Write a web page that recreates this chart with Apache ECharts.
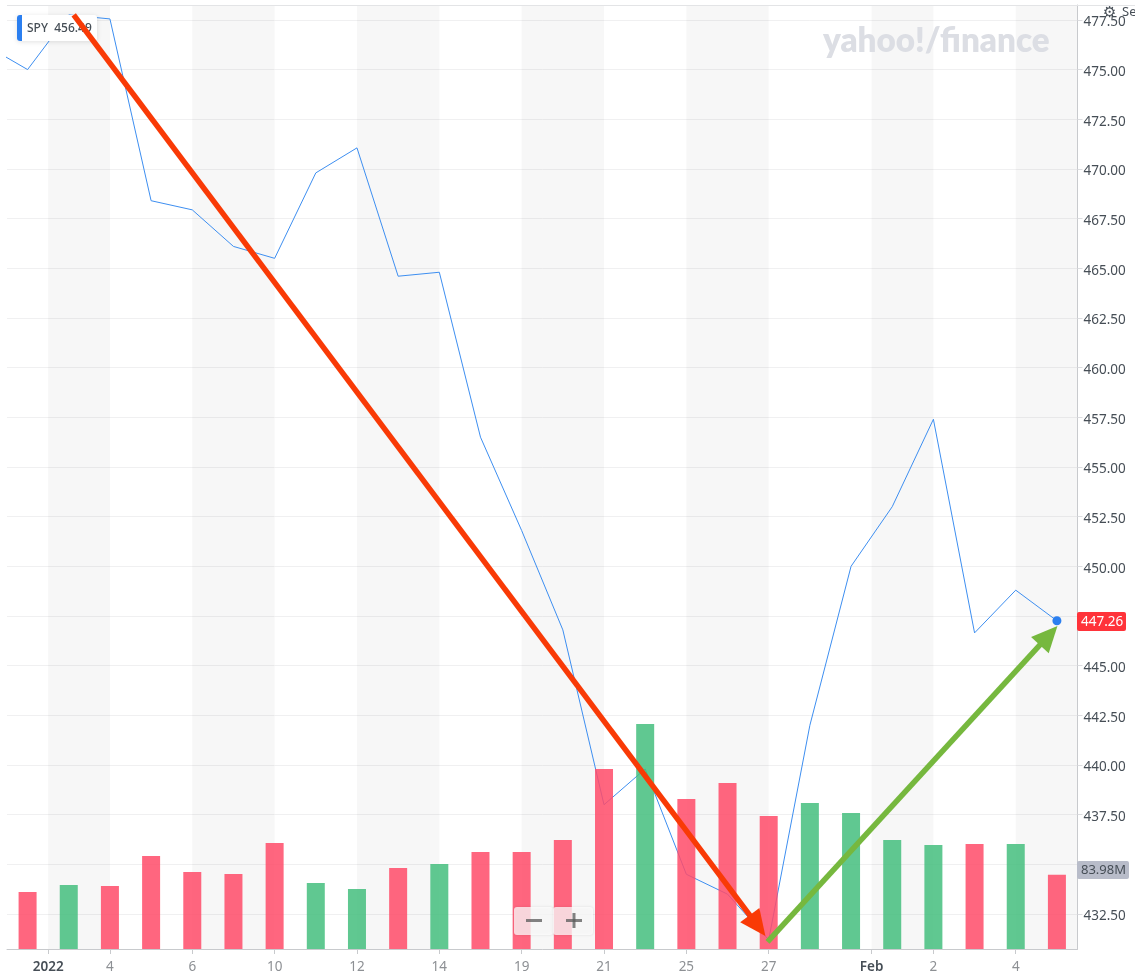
<!DOCTYPE html>
<html lang="en">
<head>
  <meta charset="UTF-8">
  <title>SPY</title>
  <script src="https://cdn.jsdelivr.net/npm/echarts@6/dist/echarts.min.js"></script>
  <style>
    html, body { margin: 0; background: #fff; }
    #chart { width: 1135px; height: 979px; }
  </style>
</head>
<body>
  <div id="chart"></div>
  <script>
    // day index 0 = Dec 31, then one slot per trading day up to Feb 7
    const dayIndex = [0, 1, 2, 3, 4, 5, 6, 7, 8, 9, 10, 11, 12, 13, 14, 15, 16, 17, 18, 19, 20, 21, 22, 23, 24, 25];
    const closes = [475.0, 477.75, 477.55, 468.4, 467.94, 466.1, 465.5, 469.8, 471.06, 464.6, 464.8, 456.5, 451.8,
      446.8, 438.0, 439.8, 434.5, 433.5, 431.2, 442.0, 450.0, 453.0, 457.4, 446.65, 448.8, 447.26];
    // the close before the first slot, the line comes in from off the left edge
    const priorClose = 476.2;
    const volumes = [64.4, 72.3, 71.2, 105, 87, 84.8, 119.8, 74.6, 67.8, 91.5, 96, 109.6, 109.6, 123.2, 203.4, 254.3,
      169.5, 187.6, 150.3, 165, 153.7, 123.2, 117.5, 118.7, 118.7, 83.98];
    const volumeUp = [0, 1, 0, 0, 0, 0, 0, 1, 1, 0, 1, 0, 0, 0, 0, 1, 0, 0, 0, 1, 1, 1, 1, 0, 1, 0];

    const priceTicks = [432.5, 435, 437.5, 440, 442.5, 445, 447.5, 450, 452.5, 455, 457.5, 460, 462.5, 465, 467.5,
      470, 472.5, 475, 477.5];
    // 447.50 sits behind the last price flag
    const priceLabelTicks = priceTicks.filter(v => v !== 447.5);
    const dateTickPositions = [0.5, 2, 4, 6, 8, 10, 12, 14, 16, 18, 20.5, 22, 24];
    const dateTickLabels = ['2022', '4', '6', '10', '12', '14', '19', '21', '25', '27', 'Feb', '2', '4'];
    const strongDateLabels = ['2022', 'Feb'];

    const bandStarts = [0.5, 4, 8, 12, 16, 20.5, 24];
    const bandEnds = [2, 6, 10, 14, 18, 22, 25.5];

    const downArrow = [[1.12, 477.75], [17.73, 431.92]];
    const upArrow = [[17.97, 431.1], [24.8, 446.52]];

    const symbolName = 'SPY';
    const hoverPrice = '456.49';
    const lastPrice = '447.26';
    const lastVolume = '83.98M';
    const watermark = 'yahoo!/finance';

    const chart = echarts.init(document.getElementById('chart'));
    const labelFont = '"Noto Sans", sans-serif';

    const linePoints = [[-1, priorClose]].concat(dayIndex.map((d, i) => [d, closes[i]]));
    const lastPoint = linePoints.length - 1;

    const arrow = (points, color) => ({
      type: 'line',
      data: [],
      z: 6,
      silent: true,
      markLine: {
        silent: true,
        symbol: ['none', 'triangle'],
        symbolSize: [24, 26],
        label: { show: false },
        lineStyle: { color: color, width: 5.5, type: 'solid', opacity: 1 },
        emphasis: { disabled: true },
        z: 6,
        data: [[{ coord: points[0] }, { coord: points[1] }]]
      }
    });

    const option = {
      backgroundColor: '#ffffff',
      animation: false,
      grid: { left: 7, right: 57.5, top: 5, bottom: 30 },
      xAxis: {
        type: 'value',
        min: -0.5,
        max: 25.5,
        axisLine: { onZero: false, lineStyle: { color: '#c8cacd' } },
        splitLine: { show: false },
        axisTick: { length: 5, customValues: dateTickPositions, lineStyle: { color: '#c8cacd' } },
        axisLabel: {
          customValues: dateTickPositions,
          margin: 11,
          showMinLabel: true,
          showMaxLabel: true,
          formatter: value => {
            const label = dateTickLabels[dateTickPositions.indexOf(value)];
            return strongDateLabels.includes(label) ? `{strong|${label}}` : label;
          },
          color: '#8d9094',
          fontFamily: labelFont,
          fontSize: 13.5,
          rich: {
            strong: { color: '#464e56', fontFamily: labelFont, fontSize: 13.5, fontWeight: 600 }
          }
        }
      },
      yAxis: [
        {
          type: 'value',
          position: 'right',
          min: 430.74,
          max: 478.25,
          axisLine: { show: true, onZero: false, lineStyle: { color: '#c8cacd' } },
          axisTick: { show: true, length: 5, customValues: priceTicks, lineStyle: { color: '#dcdde0' } },
          splitLine: { show: true, customValues: priceTicks, lineStyle: { color: '#f0f0f1' } },
          axisLabel: {
            customValues: priceLabelTicks,
            margin: 6,
            // sits the digits level with the gridline
            verticalAlign: 'top',
            lineHeight: 5,
            formatter: value => value.toFixed(2),
            color: '#464e56',
            fontFamily: labelFont,
            fontSize: 13.5
          }
        },
        {
          // volume keeps its own hidden scale
          type: 'value',
          min: 0,
          max: 1067,
          show: false,
          splitLine: { show: false }
        }
      ],
      series: [
        {
          type: 'line',
          data: [],
          z: 0,
          silent: true,
          markArea: {
            silent: true,
            z: 0,
            itemStyle: { color: 'rgba(40,40,60,0.04)' },
            data: bandStarts.map((s, i) => [{ xAxis: s }, { xAxis: bandEnds[i] }])
          }
        },
        {
          name: 'SPY',
          type: 'line',
          data: linePoints.map((p, i) => i === lastPoint
            ? { value: p, symbol: 'circle', symbolSize: 9, itemStyle: { color: '#2b7ff0', borderColor: '#fff', borderWidth: 0 } }
            : { value: p, symbol: 'none' }),
          showSymbol: true,
          showAllSymbol: true,
          clip: true,
          z: 2,
          lineStyle: { color: '#3d8ef0', width: 1 }
        },
        {
          name: 'Volume',
          type: 'bar',
          yAxisIndex: 1,
          barWidth: 18,
          z: 3,
          data: dayIndex.map((d, i) => ({
            value: [d, volumes[i]],
            itemStyle: { color: volumeUp[i] ? 'rgb(68,190,126)' : 'rgb(255,75,105)', opacity: 0.85 }
          }))
        },
        arrow(downArrow, '#f93a06'),
        arrow(upArrow, '#76b83e')
      ],
      graphic: [
        { type: 'line', z: 4, silent: true, shape: { x1: 7, y1: 5.5, x2: 1135, y2: 5.5 }, style: { stroke: '#e3e4e6', lineWidth: 1 } },
        // watermark
        { type: 'text', z: 1, silent: true, style: { x: 823, y: 41, text: watermark, verticalAlign: 'middle', fill: '#dcdee4', font: '800 33.2px Lato, sans-serif' } },
        // symbol badge
        { type: 'rect', z: 4, silent: true, shape: { x: 17, y: 15, width: 80, height: 26, r: 3 }, style: { fill: '#fff', shadowBlur: 5, shadowColor: 'rgba(0,0,0,0.12)', shadowOffsetY: 1 } },
        { type: 'rect', z: 4, silent: true, shape: { x: 17, y: 15, width: 5, height: 26, r: [3, 0, 0, 3] }, style: { fill: '#2b7ff0' } },
        { type: 'text', z: 4, silent: true, style: { x: 27, y: 29, text: symbolName + '  ' + hoverPrice, verticalAlign: 'middle', fill: '#464e56', font: '500 12px "Noto Sans", sans-serif' } },
        // settings
        { type: 'text', z: 8, silent: true, style: { x: 1103, y: 13, text: '\u2699', verticalAlign: 'middle', fill: '#464e56', font: '15px "DejaVu Sans", sans-serif' } },
        { type: 'text', z: 8, silent: true, style: { x: 1122, y: 12, text: 'Se', verticalAlign: 'middle', fill: '#464e56', font: '13px "Noto Sans", sans-serif' } },
        // value flags on the price axis
        { type: 'rect', z: 8, silent: true, shape: { x: 1077, y: 612, width: 49, height: 19, r: 2 }, style: { fill: '#ff333a' } },
        { type: 'text', z: 8, silent: true, style: { x: 1081, y: 622, text: lastPrice, verticalAlign: 'middle', fill: '#fff', font: '13.5px "Noto Sans", sans-serif' } },
        { type: 'rect', z: 8, silent: true, shape: { x: 1077, y: 861, width: 52, height: 18, r: 2 }, style: { fill: '#b8bcc9' } },
        { type: 'text', z: 8, silent: true, style: { x: 1081, y: 870.5, text: lastVolume, verticalAlign: 'middle', fill: '#464e56', font: '13px "Noto Sans", sans-serif' } },
        // zoom buttons
        { type: 'rect', z: 8, silent: true, shape: { x: 514, y: 907, width: 39, height: 28, r: 3 }, style: { fill: 'rgba(255,255,255,0.75)', shadowBlur: 3, shadowColor: 'rgba(0,0,0,0.15)' } },
        { type: 'rect', z: 8, silent: true, shape: { x: 553, y: 907, width: 40, height: 28, r: 3 }, style: { fill: 'rgba(255,255,255,0.75)', shadowBlur: 3, shadowColor: 'rgba(0,0,0,0.15)' } },
        { type: 'rect', z: 9, silent: true, shape: { x: 526, y: 919, width: 16, height: 3 }, style: { fill: 'rgba(90,90,90,0.75)' } },
        { type: 'rect', z: 9, silent: true, shape: { x: 566, y: 919, width: 16, height: 3 }, style: { fill: 'rgba(90,90,90,0.75)' } },
        { type: 'rect', z: 9, silent: true, shape: { x: 572.5, y: 913, width: 3, height: 15 }, style: { fill: 'rgba(90,90,90,0.75)' } }
      ]
    };

    chart.setOption(option);
  </script>
</body>
</html>
